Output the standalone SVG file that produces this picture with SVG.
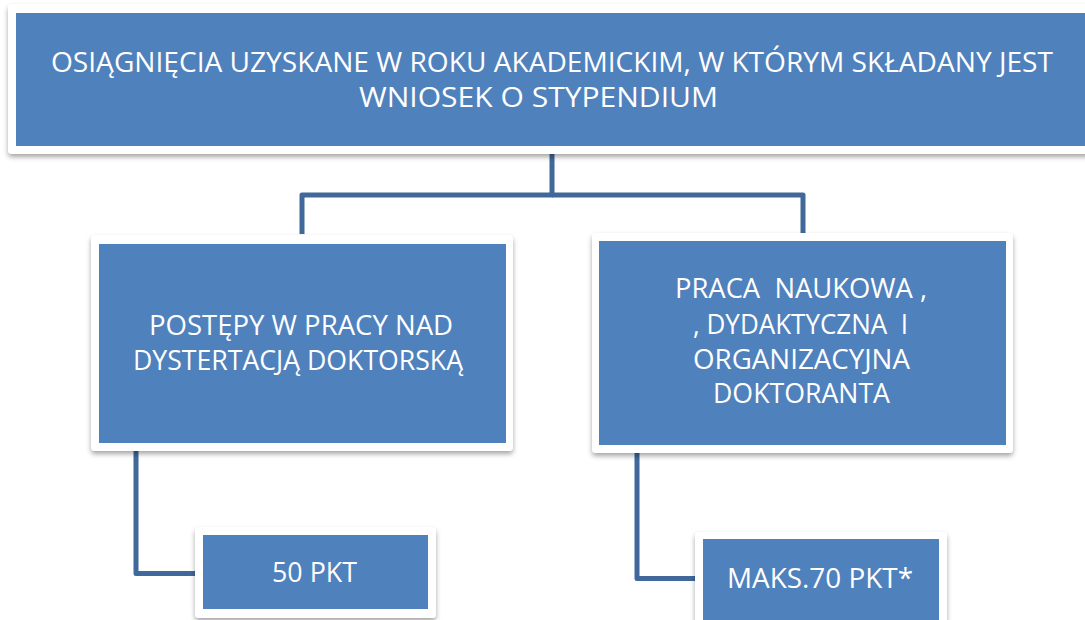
<svg xmlns="http://www.w3.org/2000/svg" width="1085" height="620" viewBox="0 0 1085 620">
  <defs>
    <filter id="sh" x="-10%" y="-10%" width="120%" height="130%">
      <feDropShadow dx="0" dy="3" stdDeviation="2.5" flood-color="#000" flood-opacity="0.35"/>
    </filter>
  </defs>
  <style>
    .frame { fill: #ffffff; filter: url(#sh); }
    .box { fill: #4F81BD; }
    .lbl { fill: #ffffff; font-family: "Open Sans", "Noto Sans", sans-serif; font-size: 27px; text-anchor: middle; }
    .conn { fill: none; stroke: #40689B; stroke-width: 5; stroke-linejoin: round; }
  </style>
  <rect width="1085" height="620" fill="#ffffff"/>

  <g id="connectors">
    <path class="conn" d="M552 150 V195 H302 V234"/>
    <path class="conn" d="M552 195 H803 V234"/>
    <path class="conn" d="M136 451 V573.5 H196"/>
    <path class="conn" d="M637 453 V578.5 H696"/>
  </g>

  <g id="top">
    <rect class="frame" x="8" y="4" width="1090" height="150" rx="4"/>
    <rect class="box" x="16" y="13" width="1075" height="133"/>
    <text class="lbl" x="552" y="72" textLength="1002" lengthAdjust="spacingAndGlyphs">OSIĄGNIĘCIA UZYSKANE W ROKU AKADEMICKIM, W KTÓRYM SKŁADANY JEST</text>
    <text class="lbl" x="538.5" y="107" textLength="359" lengthAdjust="spacingAndGlyphs">WNIOSEK O STYPENDIUM</text>
  </g>

  <g id="left">
    <rect class="frame" x="91" y="235" width="422" height="216" rx="4"/>
    <rect class="box" x="99" y="244" width="407" height="199"/>
    <text class="lbl" x="301" y="335" textLength="304" lengthAdjust="spacingAndGlyphs">POSTĘPY W PRACY NAD</text>
    <text class="lbl" x="298" y="370" textLength="330" lengthAdjust="spacingAndGlyphs">DYSTERTACJĄ DOKTORSKĄ</text>
  </g>

  <g id="right">
    <rect class="frame" x="592" y="233" width="421" height="220" rx="4"/>
    <rect class="box" x="599" y="241" width="407" height="204"/>
    <text class="lbl" x="801" y="298" textLength="252" lengthAdjust="spacingAndGlyphs" xml:space="preserve">PRACA  NAUKOWA ,</text>
    <text class="lbl" x="800.5" y="334" textLength="215" lengthAdjust="spacingAndGlyphs" xml:space="preserve">, DYDAKTYCZNA  I</text>
    <text class="lbl" x="801.5" y="369" textLength="217" lengthAdjust="spacingAndGlyphs">ORGANIZACYJNA</text>
    <text class="lbl" x="801.5" y="403" textLength="177" lengthAdjust="spacingAndGlyphs">DOKTORANTA</text>
  </g>

  <g id="b50">
    <rect class="frame" x="195" y="527" width="241" height="91" rx="4"/>
    <rect class="box" x="203" y="535" width="225" height="74"/>
    <text class="lbl" x="314.5" y="582" textLength="85" lengthAdjust="spacingAndGlyphs">50 PKT</text>
  </g>

  <g id="b70">
    <rect class="frame" x="695" y="532" width="252" height="95" rx="4"/>
    <rect class="box" x="703" y="539" width="236" height="85"/>
    <text class="lbl" x="820" y="588" textLength="186" lengthAdjust="spacingAndGlyphs">MAKS.70 PKT*</text>
  </g>
</svg>
